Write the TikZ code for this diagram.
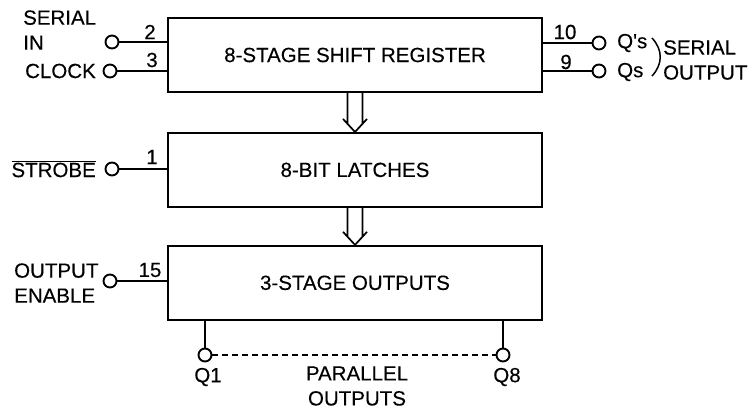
\documentclass[tikz,border=0pt]{standalone}
\usepackage{fontspec}
\setmainfont{Liberation Sans}[FakeBold=0.3]
\newfontfamily\plainsans{Liberation Sans}[FakeBold=0.3]
\usetikzlibrary{positioning,calc}

\begin{document}
\begin{tikzpicture}[x=1pt, y=-1pt,
    every node/.style={font=\fontsize{20.5}{25}\selectfont},
    blk/.style={draw, line width=1.9pt, minimum width=374pt, minimum height=74pt, inner sep=0pt},
    term/.style={draw, circle, line width=1.9pt, minimum size=13pt, inner sep=0pt},
    wire/.style={line width=1.9pt},
    lbl/.style={inner sep=0pt, align=left},
    num/.style={inner sep=0pt}
  ]
    \useasboundingbox (0,0) rectangle (750,410);
    % blocks
    \node[blk] (sr) at (355,55) {8-STAGE SHIFT REGISTER};
    \node[blk, below=39pt of sr] (lat) {8-BIT LATCHES};
    \node[blk, below=37pt of lat] (outs) {3-STAGE OUTPUTS};
    % terminals
    \node[term] (sin) at (112,42) {};
    \node[term] (clk) at (110,71) {};
    \node[term] (stb) at (112,169) {};
    \node[term] (oe) at (110,281) {};
    \node[term] (qsp) at (599,43) {};
    \node[term] (qs) at (599,71) {};
    \node[term] (q1) at (205,355) {};
    \node[term] (q8) at (503,355) {};
    % wires
    \foreach \t in {sin,clk,stb,oe} \draw[wire] (\t) -- (\t -| sr.west);
    \foreach \t in {qsp,qs} \draw[wire] (\t) -- (\t -| sr.east);
    \foreach \t in {q1,q8} \draw[wire] (\t) -- (\t |- outs.south);
    \draw[wire, line width=1.6pt, dash pattern=on 6pt off 4pt] (q1) -- (q8);
    % hollow arrows between blocks
    \foreach \a/\b in {sr/lat, lat/outs} {
      \draw[wire, line width=1.7pt] ($(\a.south)+(-7.5,0)$) -- ($(\b.north)+(-7.5,-8)$)
        ($(\a.south)+(7.5,0)$) -- ($(\b.north)+(7.5,-8)$)
        ($(\b.north)+(-12,-13)$) -- (\b.north) -- ($(\b.north)+(12,-13)$);
    }
    % pin numbers
    \node[num] (p2) at (150,32) {2};
    \node[num] (p3) at (152,60) {3};
    \node[num] (p1) at (152,157) {1};
    \node[num] (p15) at (150,270) {15};
    \node[num] (p10) at (565,32) {10};
    \node[num] (p9) at (566,62) {9};
    % labels
    \node[lbl, anchor=west] (sinlbl) at (23,30) {SERIAL\\IN};
    \node[lbl, anchor=east] (clklbl) at (96,71) {CLOCK};
    \node[lbl, anchor=east] (stblbl) at (96,169) {$\overline{\mbox{STROBE}}$};
    \node[lbl, anchor=west] (oelbl) at (14,283) {OUTPUT\\ENABLE};
    \node[lbl, anchor=west] (qsplbl) at (617,43) {\plainsans Q's};
    \node[lbl, anchor=west] (qslbl) at (617,72) {Qs};
    \draw[line width=1.5pt] (652,38) .. controls (663,50) and (663,64) .. (652,76);
    \node[lbl, anchor=west] (solbl) at (663,60) {SERIAL\\OUTPUT};
    \node[num] (q1lbl) at (208,377) {Q1};
    \node[num] (q8lbl) at (507,377) {Q8};
    \node[lbl, align=center] (parlbl) at (357,386) {PARALLEL\\OUTPUTS};
\end{tikzpicture}
\end{document}
